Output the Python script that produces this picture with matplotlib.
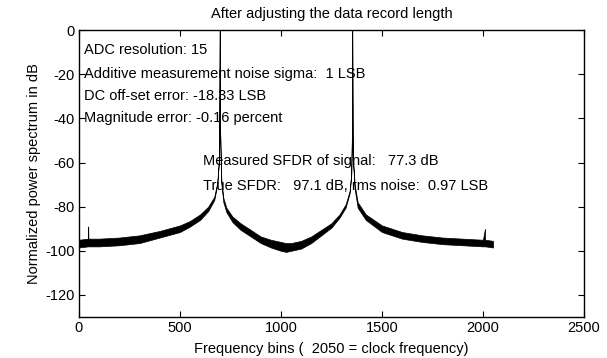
import matplotlib
matplotlib.use("Agg")
import matplotlib.pyplot as plt

plt.rcParams['font.family'] = ['Liberation Sans', 'DejaVu Sans']
plt.rcParams['axes.unicode_minus'] = False

# spectrum: bin, upper edge and lower edge of the noise band (dB)
bins = [0, 45, 46, 47, 100, 200, 300, 400, 500, 550, 600, 640, 670, 685, 692, 695, 697,
        699, 702, 705, 715, 730, 760, 800, 850, 900, 950, 1000, 1025, 1050, 1100, 1150,
        1200, 1250, 1290, 1320, 1340, 1348, 1351, 1353, 1355, 1358, 1365, 1380, 1420,
        1500, 1600, 1700, 1800, 1900, 2000, 2010, 2011, 2012, 2050]
upper = [-95, -94.5, -89, -94.5, -94.5, -94, -93, -91, -88.5, -86.5, -83.5, -80, -75.5, -69, -60, -45, 0,
         -45, -58, -68, -76, -80.5, -84.5, -87.5, -90.5, -93.5, -95, -96, -96.5, -96.5, -95.5, -93.5,
         -90.5, -87.5, -83.5, -79, -73, -65, -50, 0, -50, -60, -70, -78, -83.5,
         -88.5, -91.5, -93, -94, -94.5, -95, -90, -95, -95, -95.5]
lower = [-98.5, -98, -98, -98, -98, -97.5, -96.5, -94, -91.5, -89, -86, -82, -77, -70, -61, -46, 0,
         -46, -59, -69.5, -78, -82.5, -87, -90.5, -93.5, -96.5, -98.5, -100, -100.5, -100, -99, -96.5,
         -93, -89.5, -85, -80.5, -74, -66, -51, 0, -51, -61.5, -72, -80.5, -86,
         -91.5, -94.5, -96, -97, -97.5, -98, -98, -98, -98, -98.5]

info_lines = ["ADC resolution: 15",
              "Additive measurement noise sigma:  1 LSB",
              "DC off-set error: -18.33 LSB",
              "Magnitude error: -0.16 percent"]
info_y = [-9, -20, -30, -40]
sfdr_lines = ["Measured SFDR of signal:   77.3 dB",
              "True SFDR:   97.1 dB, rms noise:  0.97 LSB"]
sfdr_y = [-59.5, -70.5]

fs = 10.5
fig = plt.figure(figsize=(6.07, 3.58), dpi=100)
ax = fig.add_axes([0.130, 0.1145, 0.832, 0.8015])
ax.fill_between(bins, lower, upper, color='black', linewidth=0.5)

for s, y in zip(info_lines, info_y):
    ax.text(25, y, s, fontsize=fs, va='center', ha='left')
for s, y in zip(sfdr_lines, sfdr_y):
    ax.text(612, y, s, fontsize=fs, va='center', ha='left')

ax.set_xlim(0, 2500)
ax.set_ylim(-130, 0)
ax.set_xticks([0, 500, 1000, 1500, 2000, 2500])
ax.set_yticks([-120, -100, -80, -60, -40, -20, 0])
ax.tick_params(direction='in', top=True, right=True, length=4, labelsize=fs, width=0.8, pad=3)
for sp in ax.spines.values():
    sp.set_linewidth(1.0)
ax.set_title("After adjusting the data record length", fontsize=fs, pad=9)
ax.set_xlabel("Frequency bins (  2050 = clock frequency)", fontsize=fs, labelpad=5)
ax.set_ylabel("Normalized power spectrum in dB", fontsize=fs, labelpad=3)

fig.savefig("out.png", dpi=100)
